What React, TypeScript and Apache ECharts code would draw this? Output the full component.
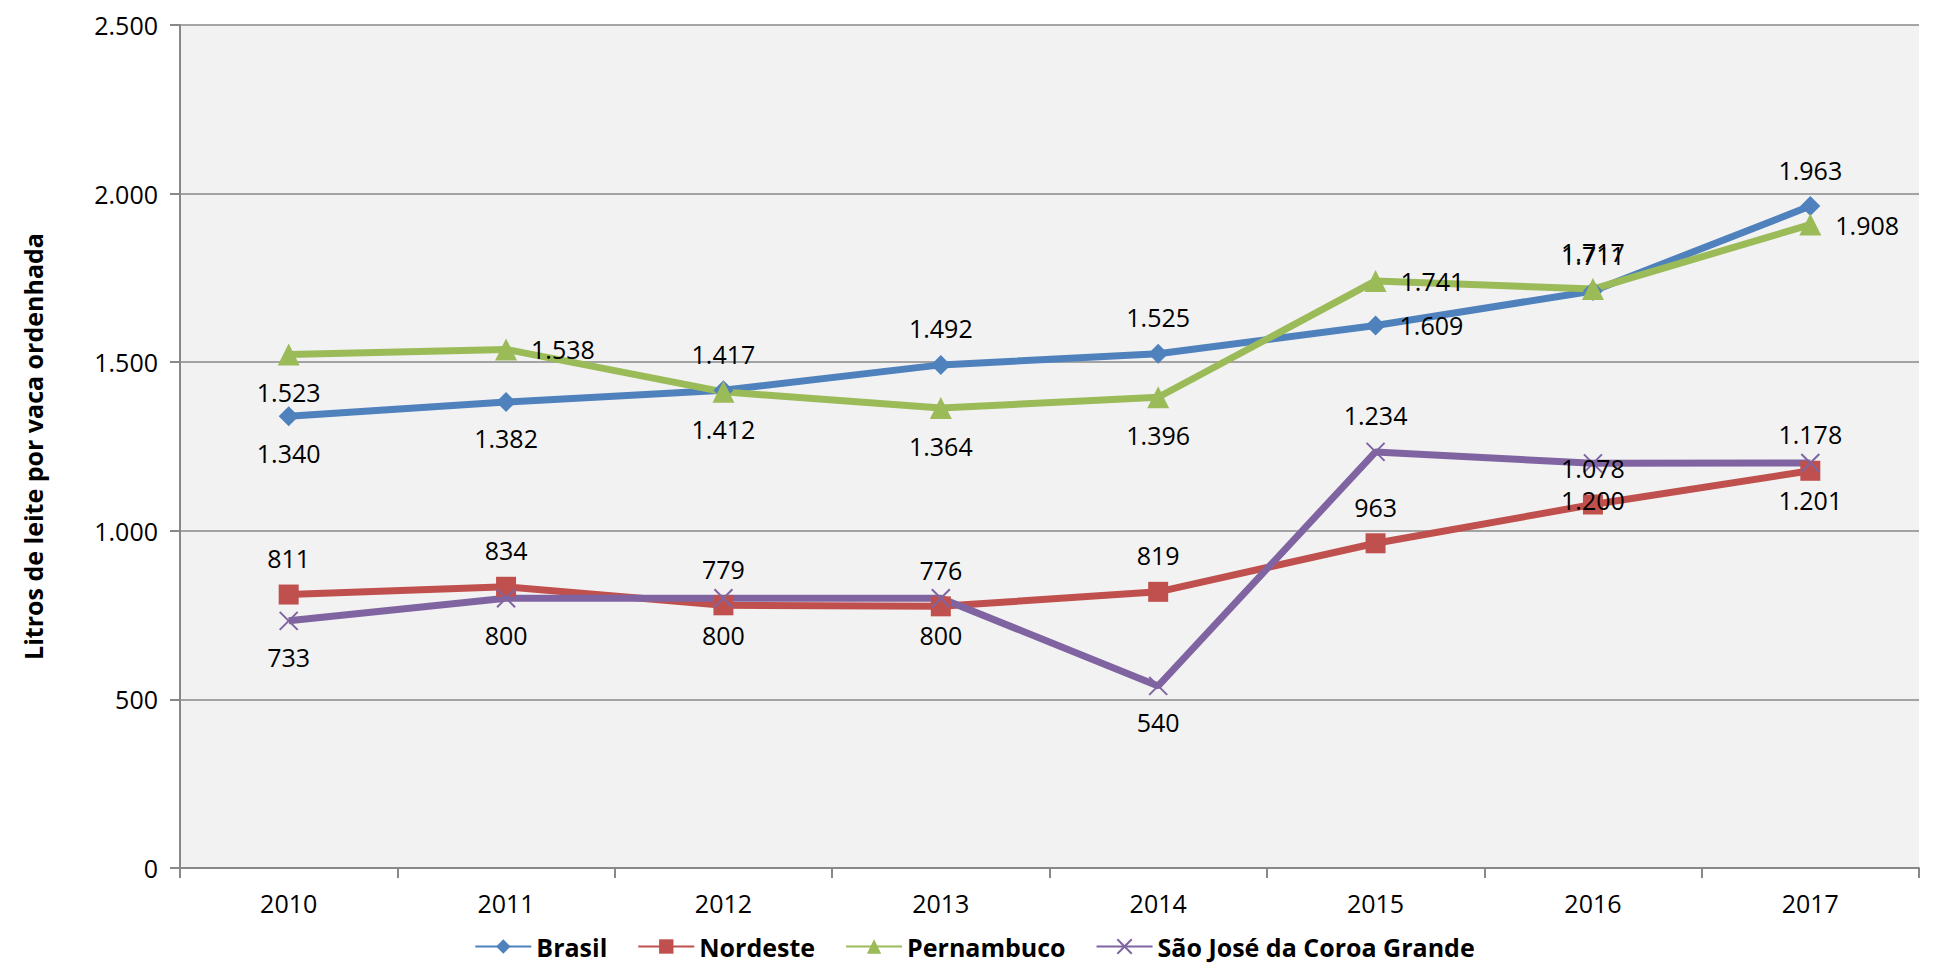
import React, { useEffect, useRef } from "react";
import * as echarts from "echarts";

const years = ["2010", "2011", "2012", "2013", "2014", "2015", "2016", "2017"];
const brasil = [1340, 1382, 1417, 1492, 1525, 1609, 1711, 1963];
const nordeste = [811, 834, 779, 776, 819, 963, 1078, 1178];
const pernambuco = [1523, 1538, 1412, 1364, 1396, 1741, 1717, 1908];
const saoJose = [733, 800, 800, 800, 540, 1234, 1200, 1201];

const brasilPos = ["bottom", "bottom", "top", "top", "top", "right", "top", "top"];
const nordestePos = ["top", "top", "top", "top", "top", "top", "top", "top"];
const pernambucoPos = ["bottom", "right", "bottom", "bottom", "bottom", "right", "top", "right"];
const saoJosePos = ["bottom", "bottom", "bottom", "bottom", "bottom", "top", "bottom", "bottom"];

const fmt = (v: number) => String(v).replace(/\B(?=(\d{3})+(?!\d))/g, ".");
const FONT = "'Open Sans', sans-serif";

function mk(name: string, vals: number[], pos: string[], color: string, symbol: string, size: number) {
  return {
    name,
    type: "line",
    data: vals.map((v, i) => ({ value: v, label: { position: pos[i] } })),
    symbol,
    symbolSize: size,
    lineStyle: { color, width: 7 },
    itemStyle: { color, borderColor: color, borderWidth: symbol.startsWith("path") ? 2 : 0 },
    label: {
      show: true,
      formatter: (p: any) => fmt(p.value),
      fontSize: 25,
      fontFamily: FONT,
      color: "#000",
      distance: 14,
    },
  };
}

export default function App() {
  const ref = useRef<HTMLDivElement>(null);
  useEffect(() => {
    const chart = echarts.init(ref.current!, undefined, { renderer: "svg" });
    chart.setOption({
      animation: false,
      textStyle: { fontFamily: FONT },
      grid: { left: 180, right: 30, top: 25, bottom: 98, show: true, backgroundColor: "#f2f2f2", borderWidth: 0 },
      legend: {
        bottom: 2,
        left: "center",
        itemWidth: 56,
        itemHeight: 18,
        itemGap: 30,
        textStyle: { fontSize: 25, fontWeight: "bold", color: "#000", fontFamily: FONT },
      },
      xAxis: {
        type: "category",
        data: years,
        boundaryGap: true,
        axisLine: { lineStyle: { color: "#888", width: 2 } },
        axisTick: { show: true, length: 10, lineStyle: { color: "#888", width: 2 } },
        axisLabel: { fontSize: 25, color: "#000", margin: 22, fontFamily: FONT },
      },
      yAxis: {
        type: "value",
        min: 0,
        max: 2500,
        interval: 500,
        name: "Litros de leite por vaca ordenhada",
        nameLocation: "middle",
        nameGap: 135,
        nameTextStyle: { fontSize: 25, fontWeight: "bold", color: "#000", fontFamily: FONT },
        axisLine: { show: true, lineStyle: { color: "#888", width: 2 } },
        axisTick: { show: true, length: 10, lineStyle: { color: "#888", width: 2 } },
        axisLabel: { fontSize: 25, color: "#000", margin: 22, formatter: (v: number) => fmt(v), fontFamily: FONT },
        splitLine: { lineStyle: { color: "#888", width: 1.5 } },
      },
      series: [
        mk("Brasil", brasil, brasilPos, "#4f81bd", "diamond", 20),
        mk("Nordeste", nordeste, nordestePos, "#c0504d", "rect", 20),
        mk("Pernambuco", pernambuco, pernambucoPos, "#9bbb59", "triangle", 22),
        mk("São José da Coroa Grande", saoJose, saoJosePos, "#8064a2", "path://M0,0L10,10M10,0L0,10", 18),
      ],
    });
    return () => chart.dispose();
  }, []);
  return <div ref={ref} style={{ position: "absolute", left: 0, top: 0, width: 1949, height: 966 }} />;
}
